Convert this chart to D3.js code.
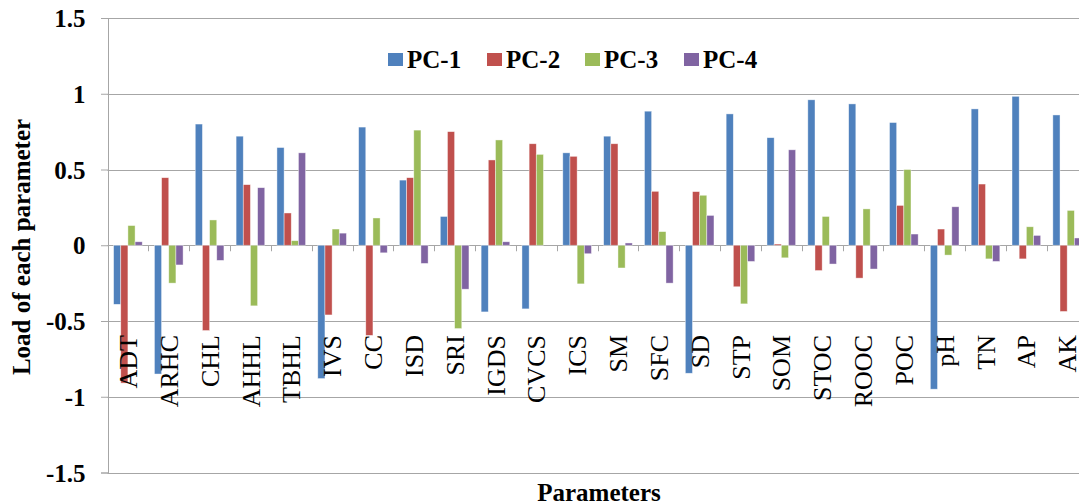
<!DOCTYPE html>
<html>
<head>
<meta charset="utf-8">
<script src="https://cdn.jsdelivr.net/npm/d3@7"></script>
<style>
  html, body { margin: 0; padding: 0; background: #fff; }
  svg { display: block; }
  text { font-family: "Liberation Serif", "Times New Roman", serif; fill: #000; }
</style>
</head>
<body>
<svg id="chart" width="1079" height="503"></svg>
<script>
const categories = ["ADT","ARHC","CHL","AHHL","TBHL","IVS","CC","ISD","SRI","IGDS","CVCS","ICS","SM","SFC","SD","STP","SOM","STOC","ROOC","POC","pH","TN","AP","AK"];
const seriesNames = ["PC-1","PC-2","PC-3","PC-4"];
const pc1 = [-0.39,-0.85,0.80,0.72,0.645,-0.88,0.78,0.43,0.19,-0.44,-0.42,0.61,0.72,0.885,-0.845,0.867,0.71,0.96,0.933,0.81,-0.95,0.90,0.983,0.86];
const pc2 = [-0.91,0.446,-0.563,0.40,0.213,-0.46,-0.595,0.446,0.75,0.563,0.67,0.587,0.67,0.356,0.354,-0.274,0.008,-0.167,-0.217,0.263,0.107,0.404,-0.09,-0.437];
const pc3 = [0.13,-0.25,0.167,-0.40,0.03,0.107,0.18,0.76,-0.55,0.695,0.60,-0.255,-0.15,0.09,0.33,-0.387,-0.083,0.19,0.24,0.50,-0.065,-0.09,0.122,0.23];
const pc4 = [0.023,-0.13,-0.10,0.38,0.61,0.08,-0.05,-0.12,-0.29,0.023,0.0,-0.056,0.015,-0.25,0.197,-0.107,0.63,-0.124,-0.157,0.074,0.254,-0.107,0.065,0.048];
const yTicks = [-1.5,-1,-0.5,0,0.5,1,1.5];
const yTickLabels = ["-1.5","-1","-0.5","0","0.5","1","1.5"];
const colors = ["#4F81BD","#C0504D","#9BBB59","#8064A2"];

const series = [pc1, pc2, pc3, pc4];
const svg = d3.select("#chart");

const x0 = d3.scaleBand().domain(categories).range([107.5, 1087.6]).paddingInner(0).paddingOuter(0);
const x1 = d3.scaleBand().domain(seriesNames).range([0, x0.bandwidth()]).paddingInner(0).paddingOuter(0.85);
const y = d3.scaleLinear().domain([-1.5, 1.5]).range([472.5, 18]);

// gridlines
svg.append("g").selectAll("line").data(yTicks).join("line")
  .attr("x1", 107.5).attr("x2", 1079)
  .attr("y1", d => Math.round(y(d)) + 0.5).attr("y2", d => Math.round(y(d)) + 0.5)
  .attr("stroke", "#a6a6a6").attr("stroke-width", 1);

// y axis
const yAxis = d3.axisLeft(y).tickValues(yTicks).tickSize(7).tickPadding(15.5)
  .tickFormat((d, i) => yTickLabels[i]);
const gy = svg.append("g").attr("transform", "translate(108,0)").call(yAxis);
gy.select(".domain").attr("stroke", "#a6a6a6");
gy.selectAll(".tick line").attr("stroke", "#a6a6a6");
gy.selectAll(".tick text")
  .attr("font-family", "'Liberation Serif', 'Times New Roman', serif")
  .attr("font-size", 25).attr("font-weight", "bold").attr("fill", "#000")
  .attr("dy", "0.34em");

// x axis category tick marks on zero line
const boundaries = categories.map(c => x0(c)).concat([x0.range()[1]]);
svg.append("g").selectAll("line").data(boundaries.slice(1)).join("line")
  .attr("x1", d => Math.round(d) + 0.5).attr("x2", d => Math.round(d) + 0.5)
  .attr("y1", y(0)).attr("y2", y(0) + 6)
  .attr("stroke", "#a6a6a6");

// bars
const groups = svg.append("g").selectAll("g").data(categories).join("g")
  .attr("transform", c => `translate(${x0(c)},0)`);
groups.selectAll("rect")
  .data((c, i) => series.map((s, k) => ({ k, v: s[i] })))
  .join("rect")
  .attr("x", d => x1(seriesNames[d.k]))
  .attr("width", x1.bandwidth())
  .attr("y", d => y(Math.max(0, d.v)))
  .attr("height", d => Math.abs(y(d.v) - y(0)))
  .attr("fill", d => colors[d.k])
  .attr("stroke", "#ffffff").attr("stroke-opacity", 0.6).attr("stroke-width", 0.7);

// x labels (rotated)
svg.append("g").selectAll("text").data(categories).join("text")
  .attr("transform", c => `translate(${x0(c) + x0.bandwidth() / 2},335) rotate(-90)`)
  .attr("text-anchor", "end").attr("dy", "0.35em")
  .attr("font-size", 26)
  .text(c => c);

// legend
const legendX = [388, 487, 585, 684];
const lg = svg.append("g").selectAll("g").data(seriesNames).join("g")
  .attr("transform", (d, i) => `translate(${legendX[i]},0)`);
lg.append("rect").attr("x", 0).attr("y", 53).attr("width", 15).attr("height", 13)
  .attr("fill", (d, i) => colors[i]);
lg.append("text").attr("x", 19).attr("y", 68)
  .attr("font-size", 25).attr("font-weight", "bold").text(d => d);

// axis titles
svg.append("text").attr("transform", "translate(30,247) rotate(-90)")
  .attr("text-anchor", "middle").attr("font-size", 25).attr("font-weight", "bold")
  .text("Load of each parameter");
svg.append("text").attr("x", 599).attr("y", 501)
  .attr("text-anchor", "middle").attr("font-size", 25).attr("font-weight", "bold")
  .text("Parameters");
</script>
</body>
</html>
